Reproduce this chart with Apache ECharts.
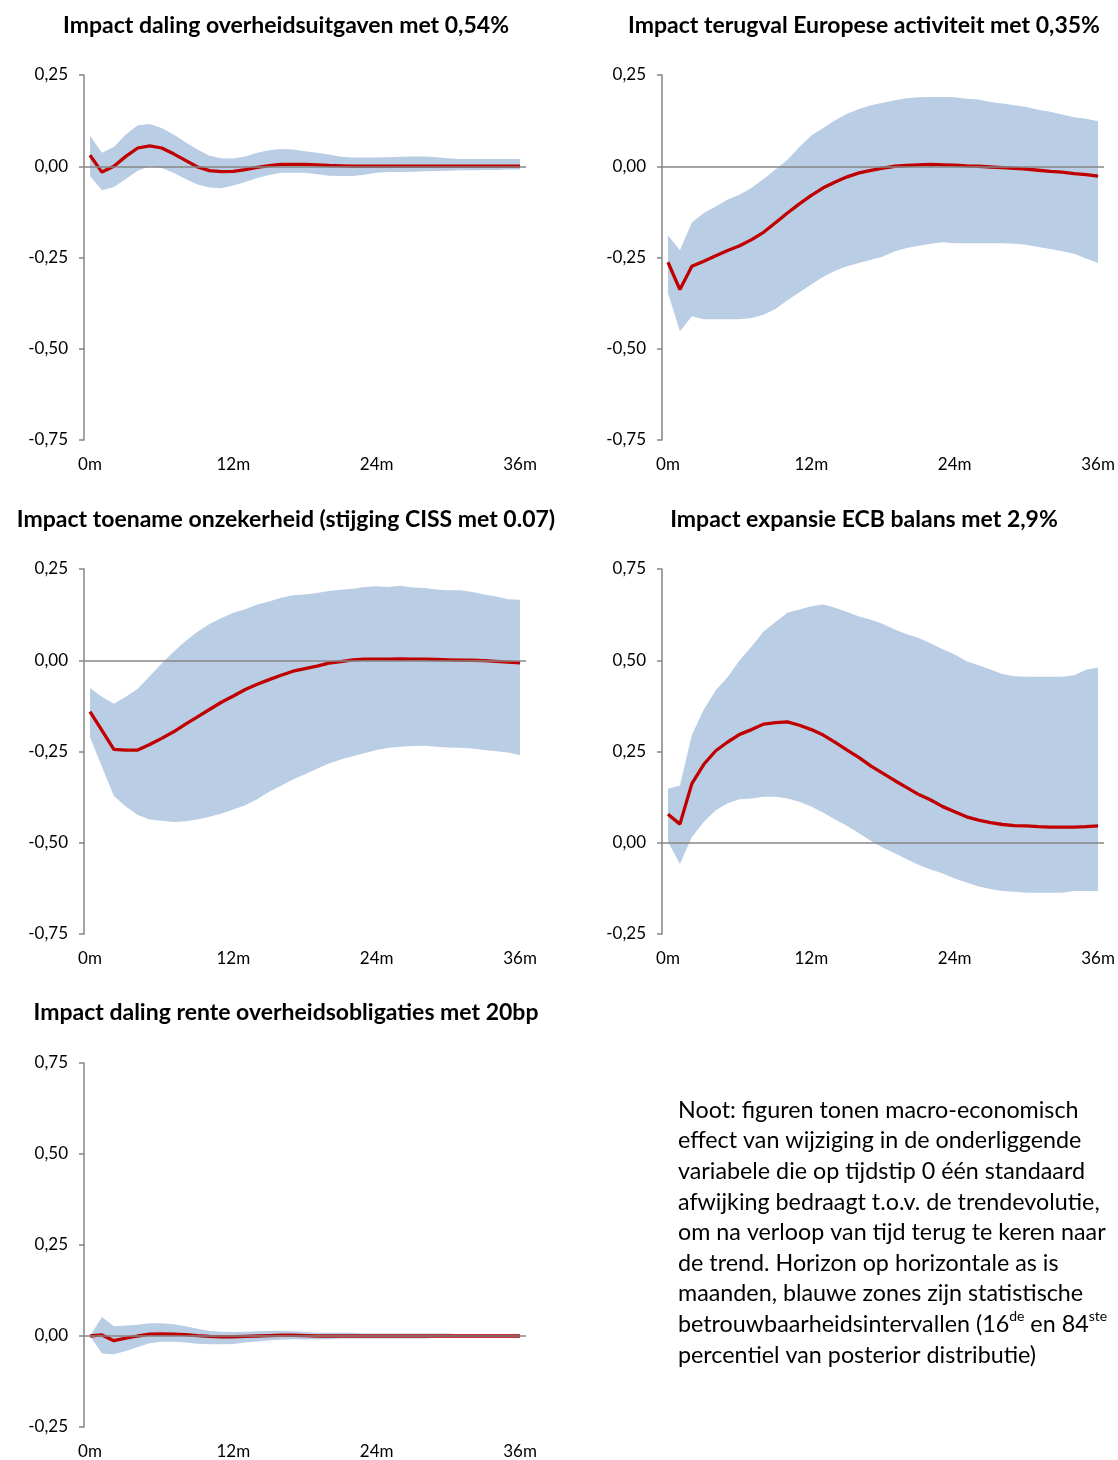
<!DOCTYPE html>
<html>
<head>
<meta charset="utf-8">
<script src="https://cdn.jsdelivr.net/npm/echarts@6/dist/echarts.min.js"></script>
<style>
  html, body { margin: 0; padding: 0; background: #fff; }
  #main { width: 1118px; height: 1460px; }
</style>
</head>
<body>
<div id="main"></div>
<script>
// horizon in months
const months = Array.from({length: 37}, (_, i) => i);
const monthLabels = months.map(m => m + 'm');

// Impact daling overheidsuitgaven met 0,54%
const mean1 = [0.030,-0.016,0.000,0.027,0.050,0.056,0.050,0.034,0.016,-0.002,-0.012,-0.015,-0.014,-0.009,-0.003,0.002,0.005,0.005,0.005,0.004,0.002,0.001,0.000,0.000,0.000,0.000,0.000,0.000,0.000,0.000,0.000,0.000,0.000,0.000,0.000,0.000,0.000];
const hi1 = [0.084,0.037,0.053,0.087,0.112,0.116,0.105,0.087,0.066,0.046,0.029,0.022,0.021,0.027,0.037,0.044,0.047,0.046,0.041,0.037,0.032,0.026,0.024,0.024,0.024,0.025,0.026,0.027,0.027,0.025,0.022,0.020,0.020,0.020,0.020,0.020,0.020];
const lo1 = [-0.027,-0.066,-0.057,-0.035,-0.012,0.000,-0.005,-0.018,-0.035,-0.050,-0.058,-0.060,-0.053,-0.043,-0.032,-0.024,-0.018,-0.018,-0.018,-0.022,-0.026,-0.027,-0.027,-0.023,-0.018,-0.016,-0.016,-0.015,-0.014,-0.013,-0.012,-0.011,-0.011,-0.010,-0.010,-0.009,-0.009];

// Impact terugval Europese activiteit met 0,35%
const mean2 = [-0.263,-0.338,-0.274,-0.260,-0.245,-0.231,-0.218,-0.201,-0.181,-0.155,-0.128,-0.103,-0.080,-0.059,-0.043,-0.029,-0.018,-0.011,-0.005,0.000,0.002,0.004,0.005,0.004,0.003,0.001,0.000,-0.002,-0.004,-0.006,-0.008,-0.011,-0.014,-0.016,-0.020,-0.023,-0.027];
const hi2 = [-0.189,-0.230,-0.154,-0.128,-0.110,-0.091,-0.078,-0.059,-0.035,-0.009,0.018,0.053,0.084,0.105,0.126,0.144,0.157,0.167,0.174,0.181,0.186,0.189,0.190,0.190,0.189,0.185,0.183,0.176,0.172,0.167,0.162,0.155,0.149,0.142,0.134,0.130,0.123];
const lo2 = [-0.347,-0.452,-0.411,-0.419,-0.419,-0.419,-0.419,-0.416,-0.407,-0.391,-0.367,-0.345,-0.324,-0.303,-0.286,-0.274,-0.265,-0.256,-0.247,-0.233,-0.224,-0.218,-0.212,-0.208,-0.211,-0.211,-0.211,-0.211,-0.211,-0.212,-0.215,-0.221,-0.227,-0.233,-0.240,-0.253,-0.265];

// Impact toename onzekerheid (stijging CISS met 0.07)
const mean3 = [-0.141,-0.192,-0.244,-0.246,-0.246,-0.231,-0.214,-0.196,-0.175,-0.155,-0.135,-0.115,-0.098,-0.080,-0.066,-0.053,-0.041,-0.030,-0.023,-0.016,-0.008,-0.004,0.001,0.003,0.003,0.003,0.004,0.003,0.003,0.002,0.001,0.000,0.000,-0.001,-0.003,-0.005,-0.007];
const hi3 = [-0.076,-0.100,-0.119,-0.100,-0.078,-0.044,-0.009,0.023,0.053,0.078,0.099,0.116,0.130,0.140,0.153,0.161,0.171,0.178,0.180,0.184,0.190,0.193,0.196,0.201,0.203,0.201,0.204,0.199,0.198,0.194,0.192,0.192,0.187,0.180,0.175,0.167,0.166];
const lo3 = [-0.210,-0.292,-0.372,-0.401,-0.424,-0.436,-0.440,-0.443,-0.441,-0.436,-0.429,-0.420,-0.409,-0.397,-0.381,-0.360,-0.344,-0.327,-0.312,-0.297,-0.283,-0.272,-0.263,-0.254,-0.246,-0.240,-0.237,-0.235,-0.234,-0.237,-0.239,-0.240,-0.242,-0.246,-0.249,-0.253,-0.260];

// Impact expansie ECB balans met 2,9%
const mean4 = [0.078,0.051,0.162,0.215,0.252,0.276,0.297,0.310,0.325,0.329,0.331,0.322,0.310,0.295,0.275,0.254,0.233,0.210,0.190,0.170,0.151,0.132,0.117,0.099,0.085,0.071,0.062,0.055,0.050,0.047,0.046,0.044,0.043,0.043,0.043,0.044,0.046];
const hi4 = [0.148,0.157,0.295,0.365,0.418,0.454,0.500,0.538,0.579,0.605,0.630,0.639,0.648,0.653,0.644,0.632,0.620,0.611,0.599,0.584,0.571,0.561,0.546,0.530,0.516,0.497,0.486,0.475,0.462,0.456,0.455,0.455,0.455,0.455,0.459,0.474,0.480];
const lo4 = [0.003,-0.058,0.016,0.057,0.089,0.108,0.119,0.121,0.126,0.126,0.121,0.112,0.099,0.082,0.064,0.046,0.026,0.005,-0.014,-0.029,-0.045,-0.061,-0.073,-0.084,-0.098,-0.109,-0.120,-0.127,-0.132,-0.134,-0.137,-0.137,-0.137,-0.137,-0.132,-0.132,-0.132];

// Impact daling rente overheidsobligaties met 20bp
const mean5 = [0.000,0.003,-0.013,-0.006,0.000,0.005,0.006,0.005,0.004,0.001,-0.001,-0.002,-0.002,-0.001,0.000,0.001,0.002,0.002,0.001,0.000,0.000,0.000,0.000,0.000,0.000,0.000,0.000,0.000,0.000,0.000,0.000,0.000,0.000,0.000,0.000,0.000,0.000];
const hi5 = [0.000,0.052,0.027,0.029,0.031,0.035,0.035,0.032,0.027,0.020,0.014,0.012,0.011,0.012,0.013,0.014,0.014,0.013,0.011,0.009,0.009,0.009,0.009,0.007,0.007,0.007,0.007,0.007,0.007,0.007,0.007,0.005,0.005,0.005,0.005,0.005,0.005];
const lo5 = [0.000,-0.048,-0.050,-0.041,-0.030,-0.020,-0.016,-0.016,-0.018,-0.021,-0.023,-0.023,-0.022,-0.018,-0.015,-0.012,-0.010,-0.009,-0.009,-0.009,-0.009,-0.007,-0.007,-0.007,-0.007,-0.007,-0.007,-0.007,-0.007,-0.005,-0.005,-0.005,-0.005,-0.005,-0.005,-0.005,-0.005];

const titles = [
  'Impact daling overheidsuitgaven met 0,54%',
  'Impact terugval Europese activiteit met 0,35%',
  'Impact toename onzekerheid (stijging CISS met 0.07)',
  'Impact expansie ECB balans met 2,9%',
  'Impact daling rente overheidsobligaties met 20bp'
];
const yMins = [-0.75, -0.75, -0.75, -0.25, -0.25];
const yMaxs = [0.25, 0.25, 0.25, 0.75, 0.75];

const panels = [
  {mean: mean1, lo: lo1, hi: hi1, left: 84, top: 75, cx: 286, ty: 26},
  {mean: mean2, lo: lo2, hi: hi2, left: 662, top: 75, cx: 864, ty: 26},
  {mean: mean3, lo: lo3, hi: hi3, left: 84, top: 569, cx: 286, ty: 520},
  {mean: mean4, lo: lo4, hi: hi4, left: 662, top: 569, cx: 864, ty: 520},
  {mean: mean5, lo: lo5, hi: hi5, left: 84, top: 1063, cx: 286, ty: 1013}
];

const FONT = 'Lato';
const AXIS = '#868686';
const BAND = '#B9CDE5';
const RED = '#C00000';

const grid = [], xAxis = [], yAxis = [], series = [], graphic = [];

panels.forEach((p, i) => {
  grid.push({left: p.left, top: p.top, width: 442, height: 365});
  xAxis.push({
    type: 'category', gridIndex: i, data: monthLabels, boundaryGap: true,
    axisLine: {show: false}, axisTick: {show: false},
    axisLabel: {
      interval: (idx) => idx % 12 === 0,
      margin: 16, color: '#000', fontSize: 17, fontFamily: FONT
    }
  });
  yAxis.push({
    type: 'value', gridIndex: i, min: yMins[i], max: yMaxs[i], interval: 0.25,
    axisLine: {show: true, lineStyle: {color: AXIS, width: 1.5}},
    axisTick: {show: true, length: 5, lineStyle: {color: AXIS, width: 1.5}},
    splitLine: {show: false},
    axisLabel: {
      formatter: v => v.toFixed(2).replace('.', ','),
      margin: 16, color: '#000', fontSize: 17, fontFamily: FONT
    }
  });
  // confidence band: lower bound + stacked width
  series.push({
    type: 'line', xAxisIndex: i, yAxisIndex: i, data: p.lo,
    stack: 'band' + i, stackStrategy: 'all', symbol: 'none',
    lineStyle: {opacity: 0}, z: 1, silent: true
  });
  series.push({
    type: 'line', xAxisIndex: i, yAxisIndex: i,
    data: p.hi.map((h, k) => +(h - p.lo[k]).toFixed(4)),
    stack: 'band' + i, stackStrategy: 'all', symbol: 'none',
    lineStyle: {opacity: 0}, areaStyle: {color: BAND, opacity: 1}, z: 1, silent: true
  });
  // zero line
  series.push({
    type: 'line', xAxisIndex: i, yAxisIndex: i, data: [], z: 2, silent: true,
    markLine: {
      silent: true, symbol: 'none', label: {show: false},
      lineStyle: {color: AXIS, width: 1.5, type: 'solid'},
      data: [{yAxis: 0}]
    }
  });
  series.push({
    type: 'line', xAxisIndex: i, yAxisIndex: i, data: p.mean,
    symbol: 'none', lineStyle: {color: RED, width: 3.3}, z: 3
  });
  graphic.push({
    type: 'text', x: p.cx, y: p.ty,
    style: {
      text: titles[i], fill: '#000', font: 'bold 23px ' + FONT,
      align: 'center', verticalAlign: 'middle'
    }
  });
});

graphic.push({
  type: 'text', x: 678, y: 1095,
  style: {
    text: 'Noot: figuren tonen macro-economisch\n' +
      'effect van wijziging in de onderliggende\n' +
      'variabele die op tijdstip 0 één standaard\n' +
      'afwijking bedraagt t.o.v. de trendevolutie,\n' +
      'om na verloop van tijd terug te keren naar\n' +
      'de trend. Horizon op horizontale as is\n' +
      'maanden, blauwe zones zijn statistische\n' +
      'betrouwbaarheidsintervallen (16{s|de} en 84{s|ste}\n' +
      'percentiel van posterior distributie)',
    fill: '#000', fontFamily: FONT, fontSize: 23.3, lineHeight: 30.6,
    align: 'left', verticalAlign: 'top',
    rich: {
      s: {fontSize: 14, fontFamily: FONT, lineHeight: 15, verticalAlign: 'top', fill: '#000'}
    }
  }
});

const chart = echarts.init(document.getElementById('main'), null, {renderer: 'canvas'});
chart.setOption({
  animation: false,
  grid, xAxis, yAxis, series, graphic
});
</script>
</body>
</html>
